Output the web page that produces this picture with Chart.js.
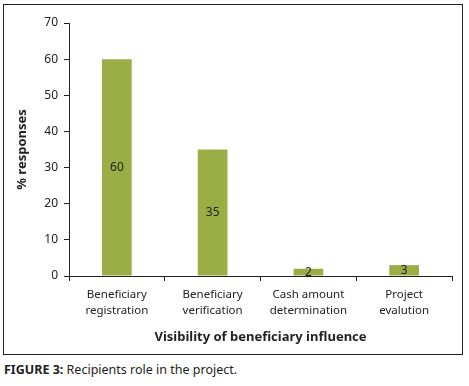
<!DOCTYPE html>
<html>
<head>
<meta charset="utf-8">
<script src="https://cdn.jsdelivr.net/npm/chart.js@4"></script>
<style>
  body { margin: 0; background: #fff; font-family: "Noto Sans", sans-serif; }
  #box { position: absolute; left: 3px; top: 4px; width: 458px; height: 349px; border: 1px solid #222; }
  #caption { position: absolute; left: 4px; top: 361px; font-size: 12.5px; color: #222; white-space: nowrap; }
  #caption b { font-weight: bold; }
</style>
</head>
<body>
<div id="box"><canvas id="grafico" width="458" height="349"></canvas></div>
<div id="caption"><b>FIGURE 3:</b> Recipients role in the project.</div>
<script>
// datos del grafico
const categorias = [
  ["Beneficiary", "registration"],
  ["Beneficiary", "verification"],
  ["Cash amount", "determination"],
  ["Project", "evalution"]
];
const respuestas = [60, 35, 2, 3];
const tituloX = "Visibility of beneficiary influence";
const tituloY = "% responses";

// etiqueta con el valor en el centro de cada barra
const etiquetas = {
  id: "etiquetas",
  afterDatasetsDraw(chart) {
    const ctx = chart.ctx;
    const meta = chart.getDatasetMeta(0);
    ctx.save();
    ctx.font = '12px "Noto Sans"';
    ctx.fillStyle = "#222";
    ctx.textAlign = "center";
    ctx.textBaseline = "middle";
    meta.data.forEach((bar, i) => {
      ctx.fillText(respuestas[i], bar.x, (bar.y + bar.base) / 2);
    });
    ctx.restore();
  }
};

new Chart(document.getElementById("grafico"), {
  type: "bar",
  data: {
    labels: categorias,
    datasets: [{
      data: respuestas,
      backgroundColor: "#9bad45",
      categoryPercentage: 1,
      barPercentage: 0.31
    }]
  },
  plugins: [etiquetas],
  options: {
    responsive: false,
    animation: false,
    layout: { padding: { left: 0, top: 18, right: 10, bottom: 0 } },
    plugins: { legend: { display: false }, tooltip: { enabled: false } },
    scales: {
      x: {
        offset: true,
        grid: { display: true, offset: true, drawOnChartArea: false, color: "#222", tickLength: 5, tickWidth: 1 },
        border: { color: "#222", width: 1 },
        ticks: { color: "#222", font: { family: "Noto Sans", size: 11.5, lineHeight: 1.35 }, padding: 6, maxRotation: 0 },
        title: { display: true, text: tituloX, color: "#222", font: { family: "Noto Sans", size: 13, weight: "bold" }, padding: { top: 4, bottom: 9 } },
        afterFit(scale) { scale.height = 78; }
      },
      y: {
        min: 0,
        max: 70,
        ticks: { stepSize: 10, color: "#222", font: { family: "Noto Sans", size: 12 }, padding: 6 },
        grid: { display: true, drawOnChartArea: false, color: "#222", tickLength: 5 },
        border: { color: "#222", width: 1 },
        title: { display: true, text: tituloY, color: "#222", font: { family: "Noto Sans", size: 13, weight: "bold" }, padding: { top: 10, bottom: 0 } },
        afterFit(scale) { scale.width = 65; }
      }
    }
  }
});
</script>
</body>
</html>
